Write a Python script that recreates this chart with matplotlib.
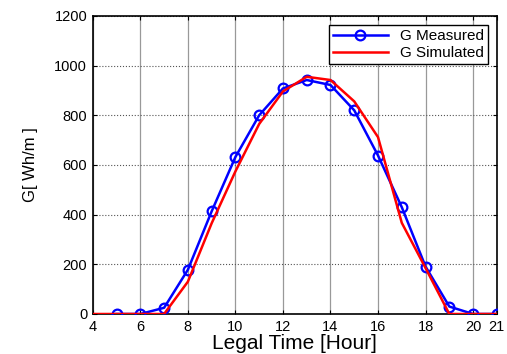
import numpy as np
import matplotlib.pyplot as plt

plt.rcParams['font.family'] = ['Liberation Sans', 'DejaVu Sans']

# hourly values
hours_measured = [5, 6, 7, 8, 9, 10, 11, 12, 13, 14, 15, 16, 17, 18, 19, 20, 21]
g_measured = [0, 0, 25, 178, 413, 632, 800, 908, 942, 922, 820, 638, 430, 191, 30, 0, 0]

hours_simulated = [4, 5, 6, 7, 8, 9, 10, 11, 12, 13, 14, 15, 16, 17, 18, 19, 20, 21]
g_simulated = [0, 0, 0, 0, 130, 365, 574, 765, 896, 955, 942, 856, 712, 367, 185, 0, 0, 0]

xticks = [4, 6, 8, 10, 12, 14, 16, 18, 20, 21]
yticks = [0, 200, 400, 600, 800, 1000, 1200]

fig = plt.figure(figsize=(5.07, 3.54), dpi=100)
ax = fig.add_axes([0.183, 0.113, 0.797, 0.842])

ax.plot(hours_measured, g_measured, color='#0000ff', linewidth=1.8,
        marker='o', markersize=7, markerfacecolor='none',
        markeredgewidth=1.6, label='G Measured', zorder=3)
ax.plot(hours_simulated, g_simulated, color='#ff0000', linewidth=1.8,
        label='G Simulated', zorder=4)

ax.set_xlim(4, 21)
ax.set_ylim(0, 1200)
ax.set_xticks(xticks)
ax.set_yticks(yticks)
ax.tick_params(direction='in', top=True, right=True, labelsize=10.5,
               length=3, width=0.8, pad=4)

ax.xaxis.grid(True, color='#999999', linestyle='-', linewidth=0.9)
ax.yaxis.grid(True, color='#555555', linestyle=':', linewidth=0.8)
ax.set_axisbelow(True)

for s in ax.spines.values():
    s.set_linewidth(1.2)

ax.set_xlabel('Legal Time [Hour]', fontsize=15, labelpad=0)
ax.set_ylabel('G[ Wh/m ]', fontsize=12, labelpad=12)

leg = ax.legend(loc='upper right', fontsize=11, fancybox=False,
                framealpha=1, edgecolor='black', borderaxespad=0.6,
                handlelength=3.6, borderpad=0.25, labelspacing=0.2)
leg.get_frame().set_linewidth(1.0)

fig.savefig('out.png', dpi=100)
